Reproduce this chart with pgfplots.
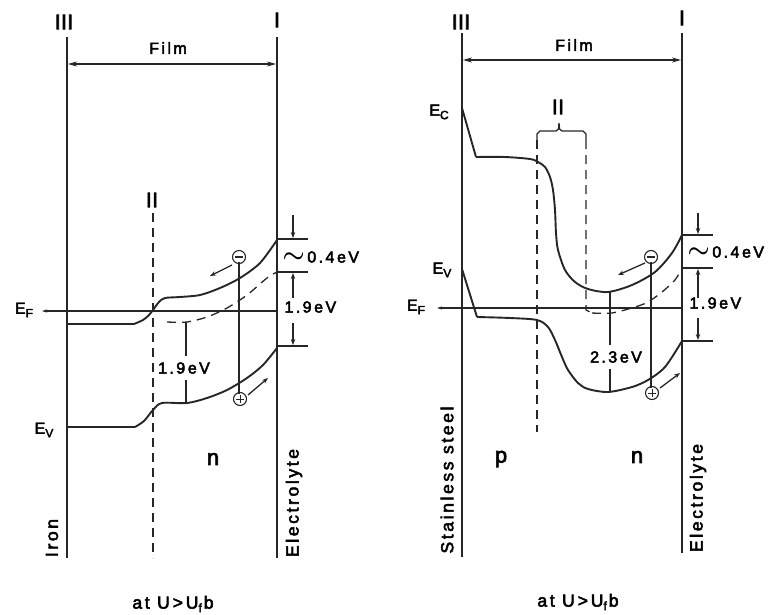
\documentclass[border=0pt]{standalone}
\usepackage{amsmath}
\usepackage{fontspec}
\setmainfont{Liberation Sans}[LetterSpace=15, FakeBold=3]
\usepackage{pgfplots}
\pgfplotsset{compat=1.18}
\usetikzlibrary{arrows.meta}

\newcommand\labS{\fontsize{16bp}{19bp}\selectfont}
\newcommand\labM{\fontsize{17.5bp}{20bp}\selectfont}
\newcommand\labL{\fontsize{21bp}{24bp}\selectfont\addfontfeatures{LetterSpace=2}}
\newcommand\sub[1]{\raisebox{-3.5bp}{\fontsize{12bp}{12bp}\selectfont #1}\kern2bp}
\newcommand\swung{{\fontsize{24bp}{24bp}\selectfont$\boldsymbol{\sim}$}}

\begin{document}
\begin{tikzpicture}
\begin{axis}[
    scale only axis,
    width=772bp, height=615bp,
    xmin=0, xmax=772, ymin=0, ymax=615,
    y dir=reverse,
    hide axis, clip=false,
    band/.style={black!85, line width=1.9bp, mark=none},
    thin/.style={black!85, line width=1.3bp, mark=none},
    dash/.style={black!85, line width=1.3bp, mark=none, dash pattern=on 9bp off 6bp},
    tip/.style={-{Stealth[length=6bp,width=4.5bp]}},
  ]
\addplot[draw=none, mark=none] coordinates {(0,0) (772,615)};

% ---------------- left panel: iron ----------------
\addplot[thin] coordinates {(67,37) (67,558)};
\addplot[thin] coordinates {(277,37) (277,558)};
\addplot[thin, {Stealth[length=9bp,width=5bp]}-{Stealth[length=9bp,width=5bp]}] coordinates {(68,64) (276,64)};
\addplot[dash] coordinates {(153,213) (153,558)};
\addplot[thin, {Stealth[length=5bp,width=3bp]}-] coordinates {(42,311) (277,311)};

% conduction band
\addplot[band] coordinates {(67,324) (134,324)};
\addplot[band, smooth, tension=0.5] coordinates {
  (134,324) (143,320) (149,315) (153,310) (159,302) (165,298) (180,297)
  (200,295) (220,288) (240,278) (260,263) (277,240)};
% quasi Fermi level
\addplot[dash, smooth] coordinates {
  (167,322) (187,322) (207,317) (227,308) (247,295) (267,278) (277,272)};
% valence band
\addplot[band] coordinates {(67,427) (135,427)};
\addplot[band, smooth, tension=0.5] coordinates {
  (135,427) (144,421) (153,410) (162,403) (187,403) (207,398)
  (227,390) (247,378) (263,365) (277,348)};

% gap marker
\addplot[thin] coordinates {(186,322) (186,356)};
\addplot[thin] coordinates {(186,380) (186,403)};
\addplot[thin] coordinates {(239,262) (239,394)};
\addplot[thin, tip] coordinates {(232,265) (210,276)};
\addplot[thin, tip] coordinates {(248,395) (268,378)};

% right-hand energy marks
\addplot[thin] coordinates {(277,239) (308,239)};
\addplot[thin] coordinates {(277,272) (308,272)};
\addplot[thin] coordinates {(277,346) (308,346)};
\addplot[thin, tip] coordinates {(293,215) (293,238)};
\addplot[thin, tip] coordinates {(293,298) (293,273)};
\addplot[thin, tip] coordinates {(293,323) (293,345)};

% ---------------- right panel: stainless steel ----------------
\addplot[thin] coordinates {(462,33) (462,557)};
\addplot[thin] coordinates {(682,33) (682,553)};
\addplot[thin, {Stealth[length=9bp,width=5bp]}-{Stealth[length=9bp,width=5bp]}] coordinates {(463,60) (681,60)};
\addplot[thin] coordinates {(537,140) (537,134) (540,131) (556,131) (558.5,129) (559,123) (559.5,129) (562,131) (583,131) (586,134) (586,140)};
\addplot[dash] coordinates {(537,140) (537,432)};
\addplot[dash] coordinates {(586,140) (586,310) (592,313)};
\addplot[thin, {Stealth[length=5bp,width=3bp]}-] coordinates {(437,308) (682,308)};

% conduction band
\addplot[band] coordinates {(462,108) (476,157)};
\addplot[band, smooth, tension=0.5] coordinates {
  (476,157) (505,157) (530,159) (538,162) (545,167) (550,177) (553,190)
  (555,210) (556,233) (558,250) (565,270) (575,282) (588,289) (608,292)
  (632,285) (655,272) (672,253) (682,235)};
% quasi Fermi level
\addplot[dash, smooth] coordinates {
  (592,313) (612,313) (635,307) (648,302) (662,292) (675,280) (682,268)};
% valence band
\addplot[band] coordinates {(462,269) (477,317)};
\addplot[band, smooth, tension=0.5] coordinates {
  (477,317) (510,318) (537,320) (548,327) (555,340) (562,357) (568,370)
  (578,383) (588,389) (608,392) (632,387) (648,380) (665,367) (682,341)};

% gap marker
\addplot[thin] coordinates {(610,292) (610,345)};
\addplot[thin] coordinates {(610,369) (610,392)};
\addplot[thin] coordinates {(651,262) (651,388)};
\addplot[thin, tip] coordinates {(645,263) (618,275)};
\addplot[thin, tip] coordinates {(660,388) (680,373)};

% right-hand energy marks
\addplot[thin] coordinates {(682,235) (713,235)};
\addplot[thin] coordinates {(682,268) (713,268)};
\addplot[thin] coordinates {(682,341) (713,341)};
\addplot[thin, tip] coordinates {(698,213) (698,234)};
\addplot[thin, tip] coordinates {(698,298) (698,269)};
\addplot[thin, tip] coordinates {(698,318) (698,340)};

% electrons and holes
\addplot[only marks, mark=o, mark size=6.5bp,
  mark options={line width=1.1bp, draw=black!85, fill=white}]
  coordinates {(239,257) (240,399) (651,257) (652,393)};
\addplot[only marks, mark=-, mark size=4bp, mark options={line width=1.3bp, draw=black!85}]
  coordinates {(239,257) (651,257)};
\addplot[only marks, mark=+, mark size=4bp, mark options={line width=1bp, draw=black!85}]
  coordinates {(240,399) (652,393)};

% ---------------- labels ----------------
\node[font=\labL] at (64,22) {III};
\node[font=\labL] at (277,20) {I};
\node[font=\labS] at (168,48) {Film};
\node[font=\labL] at (152,200) {II};
\node[font=\labS] at (25,310) {E\sub{F}};
\node[font=\labS] at (45,430) {E\sub{V}};
\node[font=\labS, fill=white, inner sep=1bp] at (184,368) {1.9\,eV};
\node[font=\labS, anchor=west] at (279,257) {\swung\,0.4\,eV};
\node[font=\labS, anchor=west] at (281,307) {1.9\,eV};
\node[font=\fontsize{22bp}{24bp}\selectfont] at (213,459) {n};
\node[font=\labM, rotate=90] at (52,538) {Iron};
\node[font=\labM, rotate=90] at (294,503) {Electrolyte};
\node[font=\labM] at (173,604) {at U\,>\,U\sub{f}b};

\node[font=\labL] at (461,22) {III};
\node[font=\labL] at (682,18) {I};
\node[font=\labS] at (574,45) {Film};
\node[font=\labL] at (558,107) {II};
\node[font=\labS] at (440,112) {E\sub{C}};
\node[font=\labS] at (443,270) {E\sub{V}};
\node[font=\labS] at (417,307) {E\sub{F}};
\node[font=\labS, fill=white, inner sep=1bp] at (616,357) {2.3\,eV};
\node[font=\labS, anchor=west] at (684,252) {\swung\,0.4\,eV};
\node[font=\labS, anchor=west] at (686,303) {1.9\,eV};
\node[font=\fontsize{22bp}{24bp}\selectfont] at (501,459) {p};
\node[font=\fontsize{22bp}{24bp}\selectfont] at (637,457) {n};
\node[font=\labM, rotate=90] at (447,480) {Stainless steel};
\node[font=\labM, rotate=90] at (698,498) {Electrolyte};
\node[font=\labM] at (578,602) {at U\,>\,U\sub{f}b};
\end{axis}
\pgfresetboundingbox
\path (current axis.south west) rectangle (current axis.north east);
\end{tikzpicture}
\end{document}
